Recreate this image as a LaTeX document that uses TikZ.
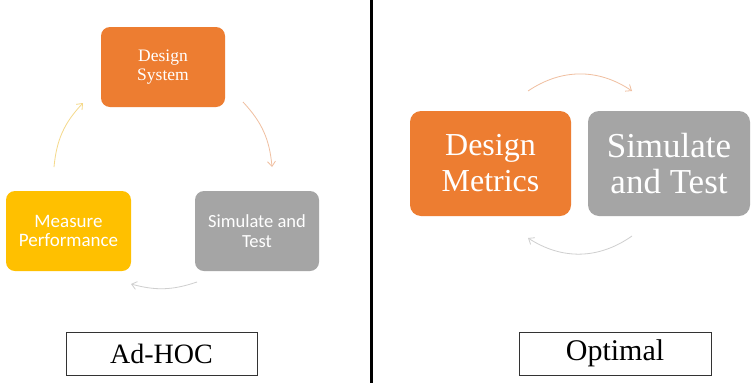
\documentclass[tikz,border=0pt]{standalone}
\usepackage{fontspec}
\setmainfont{Liberation Serif}
\newfontfamily\calib{Carlito}
\usetikzlibrary{arrows.meta}

\definecolor{accorange}{HTML}{ED7D31}
\definecolor{accyellow}{HTML}{FFC000}
\definecolor{accgray}{HTML}{A5A5A5}
\definecolor{arrorange}{HTML}{F0BFA0}
\definecolor{arryellow}{HTML}{F5D98A}
\definecolor{arrgray}{HTML}{CFCFCF}

\tikzset{
  block/.style={rounded corners=9pt, inner sep=0pt, align=center, text=white},
  bigblock/.style={rounded corners=11pt, inner sep=0pt, align=center, text=white},
  tag/.style={draw=black!80, line width=0.8pt, inner sep=0pt, fill=white},
  cyc/.style={line width=0.8pt, -{Straight Barb[length=5pt,width=8pt]}},
}

\begin{document}
\begin{tikzpicture}[x=1pt,y=-1pt]
  \useasboundingbox (0,0) rectangle (751,383);
  \fill[white] (0,0) rectangle (751,383);

  % divider between the two schemes
  \coordinate (divtop) at (371.5,0);
  \coordinate (divbot) at (371.5,383);
  \draw[line width=3pt, black] (divtop) -- (divbot);

  % ---- left: three-step loop ----
  \node[block, fill=accorange, minimum width=124pt, minimum height=80pt,
        font=\fontsize{17.5}{19}\selectfont] (ds) at (163,67) {Design\\System};
  \node[block, fill=accyellow, minimum width=125pt, minimum height=80pt,
        font=\calib\fontsize{19}{19.5}\selectfont] (mp) at (68.5,231) {Measure\\Performance};
  \node[block, fill=accgray, minimum width=124pt, minimum height=80pt,
        font=\calib\fontsize{18.5}{20}\selectfont] (st) at (257,231) {Simulate and\\Test};

  \coordinate (a1s) at (243,102);
  \coordinate (a1e) at (272,167);
  \coordinate (a2s) at (197,282);
  \coordinate (a2e) at (131,284);
  \coordinate (a3s) at (54,167);
  \coordinate (a3e) at (83,103);
  \draw[cyc, arrorange] (a1s) to[bend left=19] (a1e);
  \draw[cyc, arrgray]   (a2s) to[bend left=17] (a2e);
  \draw[cyc, arryellow] (a3s) to[bend left=19] (a3e);

  % ---- right: two-step loop ----
  \node[bigblock, fill=accorange, minimum width=161pt, minimum height=105pt,
        font=\fontsize{32}{36}\selectfont] (dm) at (490.5,163.5) {Design\\Metrics};
  \node[bigblock, fill=accgray, minimum width=162pt, minimum height=105pt,
        font=\fontsize{35}{36}\selectfont] (st2) at (669,163.5) {Simulate\\and Test};

  \coordinate (b1s) at (528,91);
  \coordinate (b1e) at (632,91);
  \coordinate (b2s) at (632,236);
  \coordinate (b2e) at (528,238);
  \draw[cyc, arrorange] (b1s) to[bend left=34] (b1e);
  \draw[cyc, arrgray]   (b2s) to[bend left=34] (b2e);

  % ---- captions ----
  \node[tag, minimum width=191pt, minimum height=43pt,
        font=\fontsize{28}{30}\selectfont] (adhoc) at (161.5,353.5) {Ad-HOC};
  \node[tag, minimum width=192pt, minimum height=43pt,
        font=\fontsize{30}{30}\selectfont] (opt) at (615,353.5) {Optimal};
\end{tikzpicture}
\end{document}
